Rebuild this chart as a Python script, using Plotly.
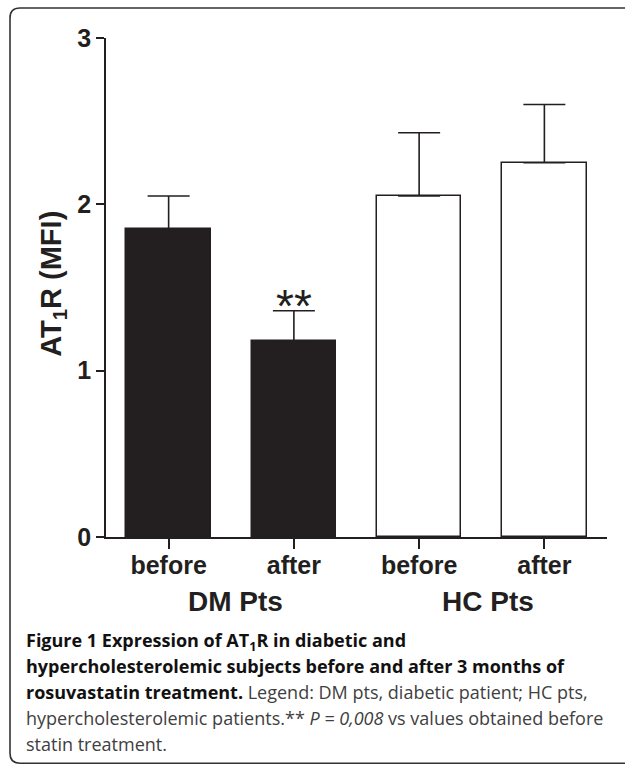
import plotly.graph_objects as go

# AT1R expression (MFI), mean and upper SEM per group
conditions = ["before", "after", "before", "after"]
groups = ["DM Pts", "HC Pts"]
means = [1.85, 1.18, 2.05, 2.25]
sem = [0.20, 0.18, 0.38, 0.35]
bar_fill = ["#231f20", "#231f20", "#ffffff", "#ffffff"]
y_ticks = [0, 1, 2, 3]

INK = "#231f20"
CHART_FONT = "Liberation Sans, Arial, Helvetica, sans-serif"
CAPTION_FONT = "Open Sans, Noto Sans, sans-serif"

W, H = 625, 767
L, R, T, B = 106, 18, 38, 229.5
PW, PH = W - L - R, H - T - B


def px(x):
    return (x - L) / PW


def py(y):
    return (H - B - y) / PH


def strong(s):
    return f'<span style="color:#111111"><b>{s}</b></span>'


positions = list(range(len(means)))

fig = go.Figure()
fig.add_trace(go.Bar(
    x=positions,
    y=means,
    width=0.675,
    marker=dict(color=bar_fill, line=dict(color=INK, width=1.5)),
    error_y=dict(type="data", symmetric=False, array=sem,
                 arrayminus=[0] * len(sem), color=INK, thickness=1.6, width=21),
    showlegend=False,
    hoverinfo="skip",
))

# significance mark over the DM "after" bar
fig.add_annotation(x=1, y=means[1] + sem[1] + 0.03, xref="x", yref="y",
                   text="**", showarrow=False, xanchor="center", yanchor="middle",
                   font=dict(family=CHART_FONT, size=46, color=INK))

# group labels under the tick labels
for gx, g in zip([0.53, 2.55], groups):
    fig.add_annotation(x=gx, y=py(602), xref="x", yref="paper", text=f"<b>{g}</b>",
                       showarrow=False, xanchor="center", yanchor="middle",
                       font=dict(family=CHART_FONT, size=28, color=INK))

# y-axis title
fig.add_annotation(x=px(53), y=py(284), xref="paper", yref="paper",
                   text="<b>AT<sub>1</sub>R (MFI)</b>", textangle=-90, showarrow=False,
                   xanchor="center", yanchor="middle",
                   font=dict(family=CHART_FONT, size=29, color=INK))

# figure caption
caption = [
    (642, strong("Figure 1 Expression of AT<sub>1</sub>R in diabetic and")),
    (667, strong("hypercholesterolemic subjects before and after 3 months of")),
    (693, strong("rosuvastatin treatment.") + " Legend: DM pts, diabetic patient; HC pts,"),
    (719, "hypercholesterolemic patients.** <i>P = 0,008</i> vs values obtained before"),
    (745, "statin treatment."),
]
for cy, line in caption:
    fig.add_annotation(x=px(24), y=py(cy), xref="paper", yref="paper", text=line,
                       showarrow=False, xanchor="left", yanchor="middle", align="left",
                       font=dict(family=CAPTION_FONT, size=18, color="#404040"))

# rounded frame around the figure (open on the right)
x0, y0, x1, y1, r = 10, 8, 660, 764, 10
frame = (
    f"M {px(x1)},{py(y0)} L {px(x0 + r)},{py(y0)} "
    f"Q {px(x0)},{py(y0)} {px(x0)},{py(y0 + r)} "
    f"L {px(x0)},{py(y1 - r)} Q {px(x0)},{py(y1)} {px(x0 + r)},{py(y1)} "
    f"L {px(x1)},{py(y1)}"
)
fig.add_shape(type="path", path=frame, xref="paper", yref="paper",
              line=dict(color="#333333", width=1.6), layer="below")

fig.update_layout(
    width=W, height=H,
    margin=dict(l=L, r=R, t=T, b=B, pad=0),
    paper_bgcolor="white", plot_bgcolor="white",
    bargap=0,
    font=dict(family=CHART_FONT, color=INK),
)
fig.update_xaxes(
    range=[-0.5, 3.5], tickvals=positions,
    ticktext=[f"<b>{c}</b>" for c in conditions],
    tickfont=dict(size=25, family=CHART_FONT, color=INK),
    ticks="outside", ticklen=10, tickwidth=1.5, tickcolor=INK,
    ticklabelstandoff=-5,
    showline=True, linecolor=INK, linewidth=1.5,
    showgrid=False, zeroline=False, fixedrange=True,
)
fig.update_yaxes(
    range=[0, 3], tickvals=y_ticks, ticktext=[f"<b>{v}</b>" for v in y_ticks],
    tickfont=dict(size=25, family=CHART_FONT, color=INK),
    ticks="outside", ticklen=8, tickwidth=1.5, tickcolor=INK,
    showline=True, linecolor=INK, linewidth=1.5,
    showgrid=False, zeroline=False, fixedrange=True,
)

fig.write_html("out.html", config={"displayModeBar": False})
